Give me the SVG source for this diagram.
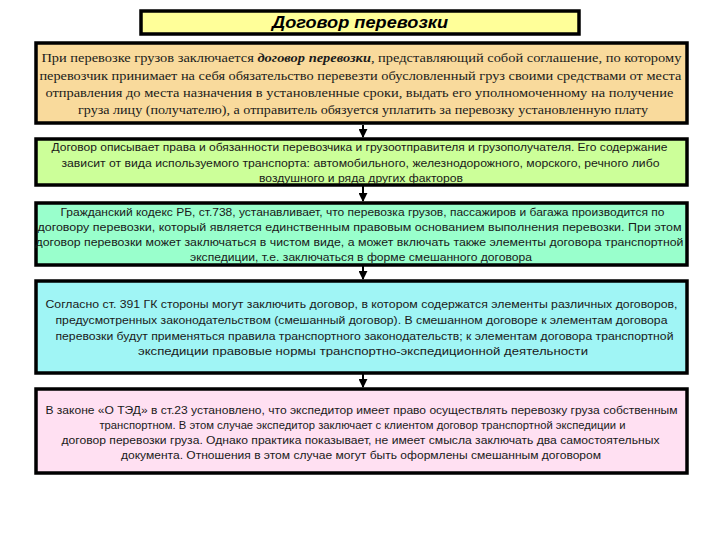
<svg xmlns="http://www.w3.org/2000/svg" width="720" height="540" viewBox="0 0 720 540">
<style>
.box{stroke:#000;stroke-width:3.5}
.serif{font-family:"Liberation Serif","Times New Roman",serif;font-size:13px;fill:#1a1a1a}
.sans{font-family:"Liberation Sans",Arial,sans-serif;font-size:11px;fill:#1a1a1a}
.title{font-family:"Liberation Sans",Arial,sans-serif;font-size:17px;font-weight:bold;font-style:italic;fill:#000}
.conn{stroke:#000;stroke-width:2;fill:none}
</style>
<defs>
<marker id="arr" viewBox="0 0 10 10" refX="9" refY="5" markerWidth="4.5" markerHeight="4.5" orient="auto" markerUnits="strokeWidth">
<path d="M0,0 L10,5 L0,10 z" fill="#000"/>
</marker>
</defs>
<rect width="720" height="540" fill="#fff"/>
<g id="title">
<rect class="box" x="141" y="11" width="438" height="23" fill="#FFFF99"/>
<text class="title" x="360" y="28" text-anchor="middle" textLength="176" lengthAdjust="spacingAndGlyphs">Договор перевозки</text>
</g>
<g id="connectors">
<line class="conn" x1="363" y1="125" x2="363" y2="137" marker-end="url(#arr)"/>
<line class="conn" x1="363" y1="186" x2="363" y2="201" marker-end="url(#arr)"/>
<line class="conn" x1="363" y1="266" x2="363" y2="279" marker-end="url(#arr)"/>
<line class="conn" x1="363" y1="374" x2="363" y2="387" marker-end="url(#arr)"/>
</g>
<g id="box1">
<rect class="box" x="36" y="43" width="651" height="80" fill="#F9DA9C"/>
<text class="serif" text-anchor="middle">
<tspan x="363" y="62" textLength="640" lengthAdjust="spacingAndGlyphs">При перевозке грузов заключается <tspan font-weight="bold" font-style="italic">договор перевозки</tspan>, представляющий собой соглашение, по  которому</tspan>
<tspan x="362" y="80" textLength="642" lengthAdjust="spacingAndGlyphs">перевозчик принимает на себя обязательство перевезти обусловленный груз своими  средствами от места</tspan>
<tspan x="361" y="97" textLength="628" lengthAdjust="spacingAndGlyphs">отправления до места назначения в установленные сроки, выдать его  уполномоченному на получение</tspan>
<tspan x="363" y="114" textLength="570" lengthAdjust="spacingAndGlyphs">груза лицу (получателю), а отправитель  обязуется уплатить за перевозку установленную плату</tspan>
</text>
</g>
<g id="box2">
<rect class="box" x="36" y="139" width="651" height="46" fill="#CCFF99"/>
<text class="sans" text-anchor="middle">
<tspan x="361" y="151" textLength="616" lengthAdjust="spacingAndGlyphs">Договор описывает права и обязанности перевозчика и грузоотправителя и грузополучателя. Его содержание</tspan>
<tspan x="362" y="167" textLength="598" lengthAdjust="spacingAndGlyphs">зависит от вида используемого транспорта: автомобильного, железнодорожного, морского, речного либо</tspan>
<tspan x="361" y="182" textLength="204" lengthAdjust="spacingAndGlyphs">воздушного и ряда других факторов</tspan>
</text>
</g>
<g id="box3">
<rect class="box" x="36" y="203" width="651" height="62" fill="#99FFCC"/>
<text class="sans" text-anchor="middle">
<tspan x="364" y="216" textLength="604" lengthAdjust="spacingAndGlyphs">Гражданский кодекс РБ, ст.738, устанавливает, что перевозка грузов, пассажиров и багажа производится по</tspan>
<tspan x="361" y="231" textLength="644" lengthAdjust="spacingAndGlyphs">договору перевозки, который является единственным правовым основанием выполнения перевозки. При этом</tspan>
<tspan x="361" y="246" textLength="648" lengthAdjust="spacingAndGlyphs">договор перевозки может заключаться в чистом виде, а может включать также элементы договора транспортной</tspan>
<tspan x="361" y="261" textLength="342" lengthAdjust="spacingAndGlyphs">экспедиции, т.е. заключаться в форме смешанного договора</tspan>
</text>
</g>
<g id="box4">
<rect class="box" x="36" y="281" width="651" height="92" fill="#A0F5F5"/>
<text class="sans" text-anchor="middle">
<tspan x="363" y="308" textLength="632" lengthAdjust="spacingAndGlyphs">Согласно ст. 391 ГК стороны могут заключить договор, в котором содержатся элементы различных договоров,</tspan>
<tspan x="363" y="324" textLength="612" lengthAdjust="spacingAndGlyphs">предусмотренных законодательством (смешанный договор). В смешанном договоре к элементам договора</tspan>
<tspan x="366" y="340" textLength="618" lengthAdjust="spacingAndGlyphs">перевозки будут применяться правила транспортного законодательств; к элементам договора транспортной</tspan>
<tspan x="363" y="355" textLength="450" lengthAdjust="spacingAndGlyphs">экспедиции правовые нормы транспортно-экспедиционной деятельности</tspan>
</text>
</g>
<g id="box5">
<rect class="box" x="36" y="389" width="651" height="84" fill="#FFE0F2"/>
<text class="sans" text-anchor="middle">
<tspan x="363" y="414" textLength="632" lengthAdjust="spacingAndGlyphs">В законе «О ТЭД» в ст.23 установлено, что экспедитор имеет право осуществлять перевозку груза собственным</tspan>
<tspan x="364" y="429" textLength="526" lengthAdjust="spacingAndGlyphs">транспортном. В этом случае экспедитор заключает с клиентом договор транспортной экспедиции и</tspan>
<tspan x="362" y="444" textLength="598" lengthAdjust="spacingAndGlyphs">договор перевозки груза. Однако практика показывает, не имеет смысла заключать два самостоятельных</tspan>
<tspan x="361" y="459" textLength="480" lengthAdjust="spacingAndGlyphs">документа. Отношения в этом случае могут быть оформлены смешанным договором</tspan>
</text>
</g>
</svg>
